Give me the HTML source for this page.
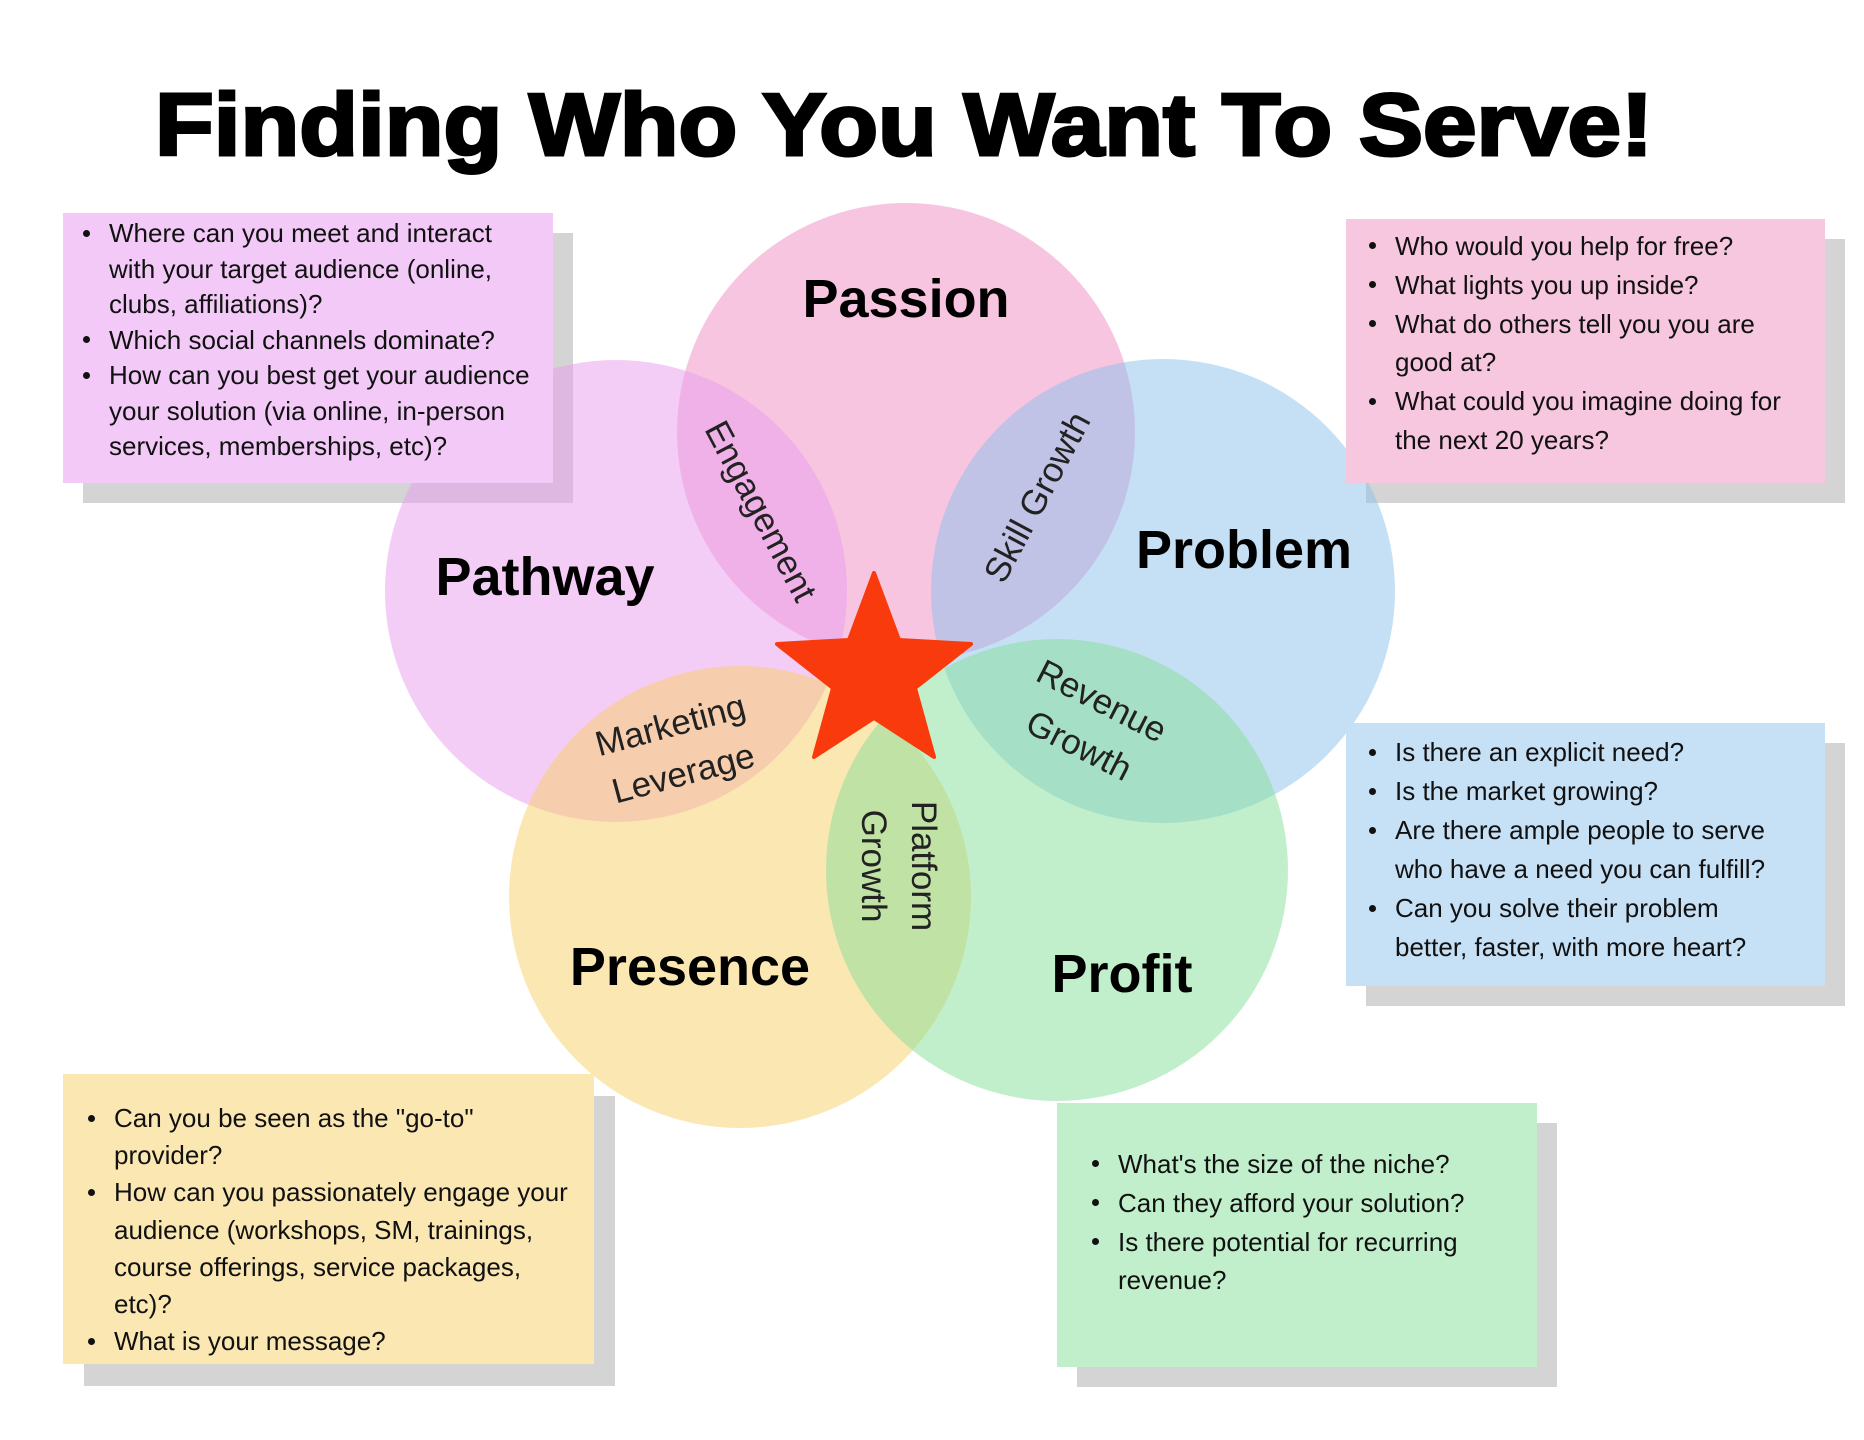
<!DOCTYPE html>
<html><head><meta charset="utf-8"><style>
html,body{margin:0;padding:0;background:#fff;}
body{width:1864px;height:1440px;position:relative;overflow:hidden;font-family:"Liberation Sans",sans-serif;}
svg{position:absolute;left:0;top:0;}
.box{position:absolute;}
.sh{position:absolute;background:#d4d4d4;}
.box ul{margin:0;padding:0;list-style:none;position:absolute;font-size:26px;color:#111;white-space:nowrap;}
.box li{position:relative;}
.box li:before{content:"";position:absolute;left:-26px;top:50%;margin-top:-4px;width:7px;height:7px;border-radius:50%;background:#111;}
.box li.c:before{display:none;}
</style></head><body>
<div class="sh" style="left:83px;top:233px;width:490px;height:270px"></div>
<div class="sh" style="left:1366px;top:239px;width:479px;height:264px"></div>
<div class="sh" style="left:1366px;top:743px;width:479px;height:263px"></div>
<div class="sh" style="left:84px;top:1096px;width:531px;height:290px"></div>
<div class="sh" style="left:1077px;top:1123px;width:480px;height:264px"></div>

<svg width="1864" height="1440" viewBox="0 0 1864 1440">
<circle cx="906" cy="432" r="229" fill="#ef8bc1" opacity="0.5"/>
<circle cx="1163" cy="591" r="232" fill="#8bc1eb" opacity="0.5"/>
<circle cx="616" cy="591" r="231" fill="#e99bef" opacity="0.5"/>
<circle cx="740" cy="897" r="231" fill="#f7cf65" opacity="0.5"/>
<circle cx="1057" cy="870" r="231" fill="#85df97" opacity="0.5"/>
<polygon points="874,573 899,640 971,644 915,688 934,757 874,718 814,757 833,688 777,644 849,640" fill="#f83a0c" stroke="#f83a0c" stroke-width="4" stroke-linejoin="round"/>
<text x="904" y="155" text-anchor="middle" font-size="88" font-weight="bold" textLength="1498" lengthAdjust="spacingAndGlyphs" fill="#000" stroke="#000" stroke-width="3">Finding Who You Want To Serve!</text>
<g font-size="54" font-weight="bold" fill="#000" text-anchor="middle">
<text x="906" y="317">Passion</text>
<text x="1244" y="568">Problem</text>
<text x="545" y="595">Pathway</text>
<text x="690" y="985">Presence</text>
<text x="1122" y="992">Profit</text>
</g>
<g font-size="35" fill="#222" text-anchor="middle">
<text transform="translate(761,511) rotate(62)" y="12">Engagement</text>
<text transform="translate(1037,497) rotate(-62)" y="12">Skill Growth</text>
<g transform="translate(677,750) rotate(-15)"><text y="-14">Marketing</text><text y="36">Leverage</text></g>
<g transform="translate(1090,724) rotate(27)"><text y="-14">Revenue</text><text y="36">Growth</text></g>
<g transform="translate(898,866) rotate(90)"><text y="-14">Platform</text><text y="36">Growth</text></g>
</g>
</svg>

<div class="box" style="left:63px;top:213px;width:490px;height:270px;background:#f2c9f7">
<ul style="left:46px;top:3px;line-height:35.5px">
<li>Where can you meet and interact</li><li class="c">with your target audience (online,</li><li class="c">clubs, affiliations)?</li>
<li>Which social channels dominate?</li>
<li>How can you best get your audience</li><li class="c">your solution (via online, in-person</li><li class="c">services, memberships, etc)?</li>
</ul></div>
<div class="box" style="left:1346px;top:219px;width:479px;height:264px;background:#f7c6df">
<ul style="left:49px;top:8px;line-height:38.8px">
<li>Who would you help for free?</li><li>What lights you up inside?</li>
<li>What do others tell you you are</li><li class="c">good at?</li>
<li>What could you imagine doing for</li><li class="c">the next 20 years?</li>
</ul></div>
<div class="box" style="left:1346px;top:723px;width:479px;height:263px;background:#c6e0f5">
<ul style="left:49px;top:10px;line-height:39px">
<li>Is there an explicit need?</li><li>Is the market growing?</li>
<li>Are there ample people to serve</li><li class="c">who have a need you can fulfill?</li>
<li>Can you solve their problem</li><li class="c">better, faster, with more heart?</li>
</ul></div>
<div class="box" style="left:63px;top:1074px;width:531px;height:290px;background:#fbe7b2">
<ul style="left:51px;top:26px;line-height:37.2px">
<li>Can you be seen as the "go-to"</li><li class="c">provider?</li>
<li>How can you passionately engage your</li><li class="c">audience (workshops, SM, trainings,</li><li class="c">course offerings, service packages,</li><li class="c">etc)?</li>
<li>What is your message?</li>
</ul></div>
<div class="box" style="left:1057px;top:1103px;width:480px;height:264px;background:#c2efcb">
<ul style="left:61px;top:42px;line-height:38.8px">
<li>What's the size of the niche?</li><li>Can they afford your solution?</li>
<li>Is there potential for recurring</li><li class="c">revenue?</li>
</ul></div>
</body></html>
